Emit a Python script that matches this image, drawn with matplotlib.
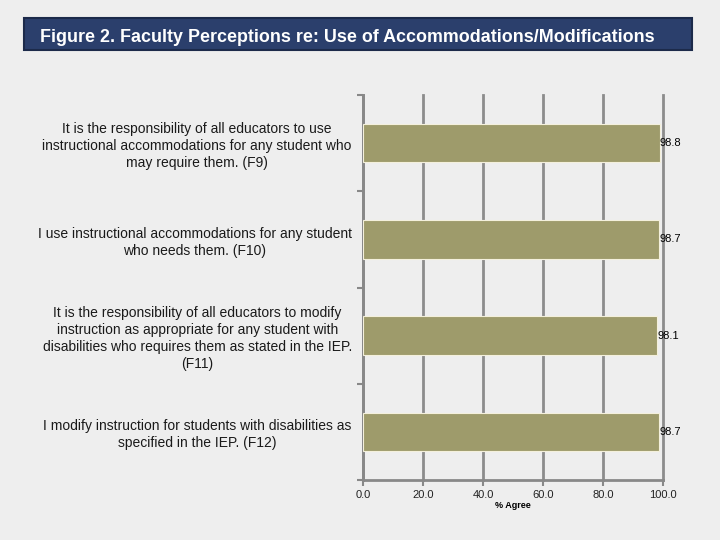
import matplotlib.pyplot as plt
import numpy as np
from matplotlib.patches import FancyBboxPatch

categories = [
    "It is the responsibility of all educators to use\ninstructional accommodations for any student who\nmay require them. (F9)",
    "I use instructional accommodations for any student\nwho needs them. (F10)",
    "It is the responsibility of all educators to modify\ninstruction as appropriate for any student with\ndisabilities who requires them as stated in the IEP.\n(F11)",
    "I modify instruction for students with disabilities as\nspecified in the IEP. (F12)",
]
values = [98.8, 98.7, 98.1, 98.7]
xticks = [0, 20, 40, 60, 80, 100]

plt.rcParams["font.family"] = ["Liberation Sans", "DejaVu Sans"]

fig = plt.figure(figsize=(7.2, 5.4), dpi=100)
fig.set_facecolor("#eeeeee")

# title banner
fig.patches.append(FancyBboxPatch((0.033, 0.908), 0.928, 0.058, boxstyle="square,pad=0",
                                  transform=fig.transFigure, fc="#2b3f6c", ec="#1c2a4a", lw=1.5))
fig.text(0.056, 0.931, "Figure 2. Faculty Perceptions re: Use of Accommodations/Modifications",
         color="white", fontsize=12.9, fontweight="bold", va="center", ha="left")

ax = fig.add_axes([0.504, 0.111, 0.417, 0.713])
ax.set_facecolor("none")
y = np.arange(len(categories))
ax.barh(y, values, height=0.4, color="#9e9b6b", edgecolor="#f4f0dc", lw=0.8, zorder=3)
for yi, v in zip(y, values):
    ax.text(v, yi, f"{v:.1f}", va="center", ha="left", fontsize=8, color="black", zorder=4)

ax.set_xlim(0, 100)
ax.set_ylim(len(categories) - 0.5, -0.5)
ax.set_xticks(xticks)
ax.set_xticklabels([f"{t:.1f}" for t in xticks], fontsize=8, color="#222222")
ax.set_yticks(y)
ax.set_yticklabels(categories, fontsize=10, color="#1a1a1a", multialignment="center",
                   linespacing=1.25)
ax.set_yticks(np.arange(-0.5, len(categories)), minor=True)
ax.tick_params(axis="y", which="major", length=0, pad=8)
ax.tick_params(axis="y", which="minor", length=4, width=1.5, color="#888888")
ax.tick_params(axis="x", length=4, width=1.5, color="#888888", pad=3)
ax.grid(axis="x", color="#8c8c8c", lw=2, zorder=1)
for gl in ax.get_xgridlines():
    gl.set_clip_on(False)
for s in ["top", "right"]:
    ax.spines[s].set_visible(False)
for s in ["left", "bottom"]:
    ax.spines[s].set_color("#888888")
    ax.spines[s].set_linewidth(2)
ax.set_xlabel("% Agree", fontsize=6.5, fontweight="bold", labelpad=1)

fig.savefig("out.png", dpi=100, facecolor=fig.get_facecolor())
